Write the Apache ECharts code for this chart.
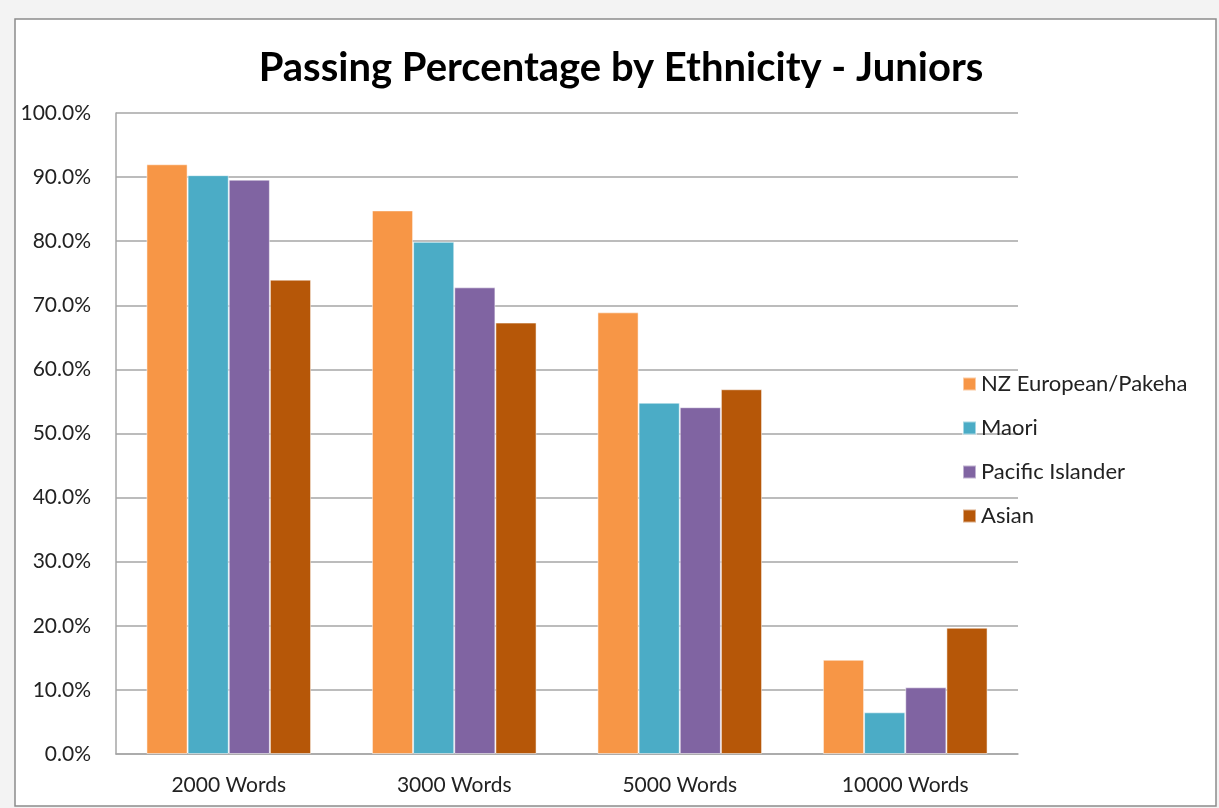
<!DOCTYPE html>
<html style="height: 100%">
<head>
  <meta charset="utf-8">
  <title>Passing Percentage by Ethnicity - Juniors</title>
</head>
<body style="height: 100%; margin: 0; background: #f3f3f3">
  <div id="container" style="width: 1219px; height: 808px"></div>
  <script src="https://cdn.jsdelivr.net/npm/echarts@6/dist/echarts.min.js"></script>
  <script type="text/javascript">
    // values, in percent
    var categories = ['2000 Words', '3000 Words', '5000 Words', '10000 Words'];
    var seriesNames = ['NZ European/Pakeha', 'Maori', 'Pacific Islander', 'Asian'];
    var nzEuropean = [92.0, 84.8, 68.9, 14.7];
    var maori = [90.3, 79.9, 54.8, 6.5];
    var pacific = [89.6, 72.8, 54.1, 10.4];
    var asian = [74.0, 67.3, 56.9, 19.7];
    var colors = ['#f79646', '#4bacc6', '#8064a2', '#b65708'];

    var font = 'Lato, "Open Sans", sans-serif';
    var dom = document.getElementById('container');
    var myChart = echarts.init(dom);

    var values = [nzEuropean, maori, pacific, asian];
    var series = seriesNames.map(function (name, i) {
      return {
        name: name,
        type: 'bar',
        data: values[i],
        barGap: '0%',
        barCategoryGap: '27%',
        itemStyle: { color: colors[i], borderColor: 'rgba(255,255,255,0.5)', borderWidth: 1 }
      };
    });

    var option = {
      animation: false,
      backgroundColor: '#f3f3f3',
      graphic: [{
        type: 'rect',
        shape: { x: 15, y: 19, width: 1201, height: 787 },
        style: { fill: '#ffffff', stroke: '#8c8c8c', lineWidth: 1.5 },
        z: -10
      }],
      title: {
        text: 'Passing Percentage by Ethnicity - Juniors',
        left: 616,
        textAlign: 'center',
        top: 43,
        textStyle: { fontFamily: font, fontWeight: 'bold', fontSize: 40, color: '#000' }
      },
      legend: {
        orient: 'vertical',
        left: 957,
        top: 368,
        icon: 'rect',
        itemWidth: 13,
        itemHeight: 13,
        itemGap: 22,
        textStyle: { fontFamily: font, fontSize: 22, color: '#222' },
        data: seriesNames
      },
      grid: { left: 116, top: 113, right: 201, bottom: 54 },
      xAxis: {
        type: 'category',
        data: categories,
        axisTick: { show: false },
        axisLine: { lineStyle: { color: '#a6a6a6', width: 1.5 } },
        axisLabel: { fontFamily: font, fontSize: 21, color: '#222', margin: 21 }
      },
      yAxis: {
        type: 'value',
        min: 0,
        max: 100,
        interval: 10,
        axisLine: { show: true, lineStyle: { color: '#a6a6a6', width: 1.5 } },
        axisTick: { show: false },
        splitLine: { lineStyle: { color: '#a6a6a6', width: 1.5 } },
        axisLabel: {
          fontFamily: font, fontSize: 21, color: '#222', margin: 25,
          formatter: function (v) { return v.toFixed(1) + '%'; }
        }
      },
      series: series
    };

    myChart.setOption(option);
  </script>
</body>
</html>
